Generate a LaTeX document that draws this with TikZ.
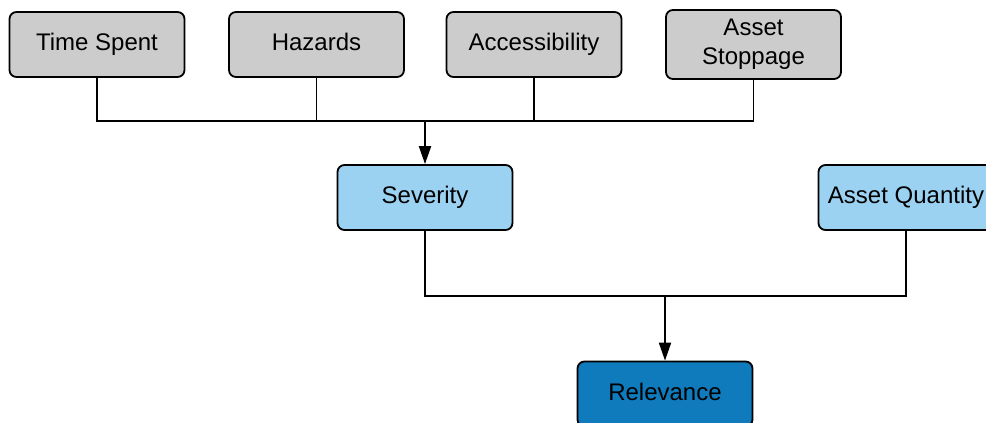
\documentclass[tikz,border=0pt]{standalone}
\usepackage{fontspec}
\setmainfont{Liberation Sans}
\usepackage{xcolor}
\usetikzlibrary{arrows.meta, positioning}

\definecolor{inputgray}{HTML}{CCCCCC}
\definecolor{midblue}{HTML}{9BD2F2}
\definecolor{resultblue}{HTML}{0F7BBD}

\begin{document}
\begin{tikzpicture}[
    x=1pt, y=-1pt,
    box/.style={rectangle, draw=black, line width=1.8pt, rounded corners=7pt, minimum width=175pt, minimum height=65pt, inner sep=0pt, align=center, font=\fontsize{24}{29}\selectfont},
    onerow/.style={text height=17pt, text depth=5pt},
    input/.style={box, fill=inputgray},
    mid/.style={box, onerow, fill=midblue},
    result/.style={box, onerow, fill=resultblue},
    link/.style={line width=2pt},
    thinlink/.style={line width=1.2pt},
    arrow/.style={link, -{Triangle[width=12pt, length=18pt]}},
]
\useasboundingbox (0,0) rectangle (986,423);

% ===== Top row: inputs =====
\node[input, onerow] (time) at (97, 44.5) {Time Spent};
\node[input, onerow] (hazards) at (316.5, 44.5) {Hazards};
\node[input, onerow] (access) at (534, 44.5) {Accessibility};
\node[input, minimum height=69pt] (stoppage) at (753.5, 44.5) {Asset\\Stoppage};

% ===== Middle row =====
\node[mid] (severity) at (425, 197.5) {Severity};
\node[mid] (quantity) at (906, 197.5) {Asset Quantity};

% ===== Bottom =====
\node[result] (relevance) at (665, 394) {Relevance};

% ===== Connectors =====
\coordinate (topbus) at (425, 121);
\draw[link] (time.south) |- (topbus);
\draw[link] (access.south) |- (topbus);
\draw[thinlink] (hazards.south) -- (hazards.south |- topbus);
\draw[thinlink] (stoppage.south) |- (access.south |- topbus);
\draw[arrow] (topbus) -- (severity.north);

\coordinate (midbus) at (665, 296);
\draw[link] (severity.south) |- (midbus);
\draw[link] (quantity.south) |- (midbus);
\draw[arrow] (midbus) -- (relevance.north);

\end{tikzpicture}
\end{document}
